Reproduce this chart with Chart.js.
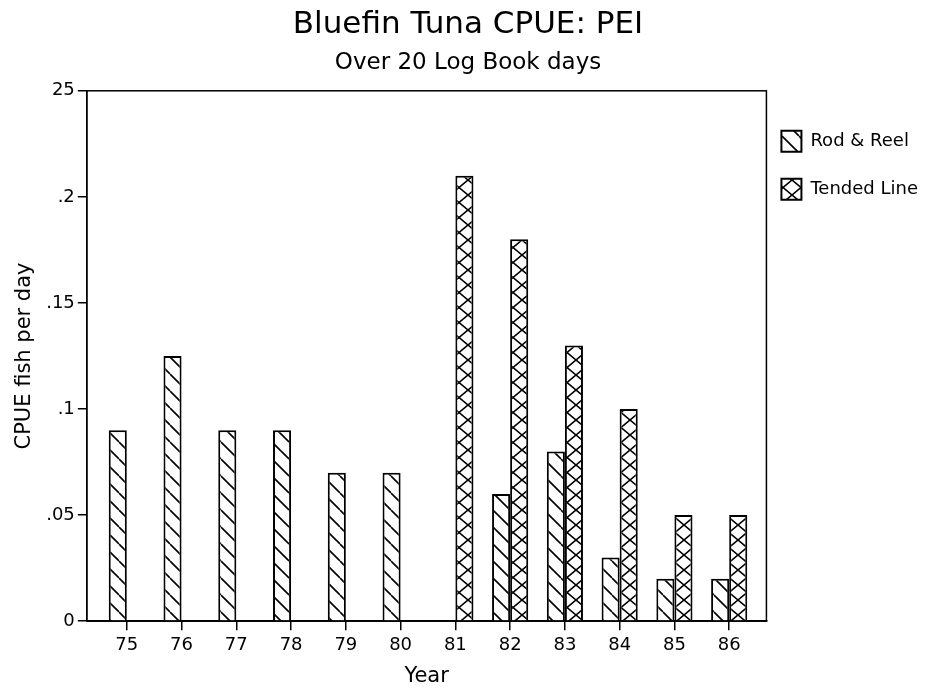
<!DOCTYPE html>
<html>
<head>
<meta charset="utf-8">
<title>Bluefin Tuna CPUE: PEI</title>
<script src="https://cdn.jsdelivr.net/npm/chart.js@4.4.1/dist/chart.umd.min.js"></script>
<style>
  html, body { margin: 0; padding: 0; background: #fff; }
  #wrap { width: 939px; height: 692px; }
</style>
</head>
<body>
<div id="wrap"><canvas id="cpueChart"></canvas></div>
<script>
const years = [75, 76, 77, 78, 79, 80, 81, 82, 83, 84, 85, 86];
const rodReel = [0.09, 0.125, 0.09, 0.09, 0.07, 0.07, null, 0.06, 0.08, 0.03, 0.02, 0.02];
const tendedLine = [null, null, null, null, null, null, 0.21, 0.18, 0.13, 0.10, 0.05, 0.05];
const yTickLabels = ["0", ".05", ".1", ".15", ".2", "25"];

const FONT = "'DejaVu Sans', sans-serif";

// Build a repeating hatch tile: single diagonal or cross
function makeHatch(w, h, cross) {
    const c = document.createElement("canvas");
    c.width = w;
    c.height = h;
    const g = c.getContext("2d");
    g.fillStyle = "#fff";
    g.fillRect(0, 0, w, h);
    g.strokeStyle = "#000";
    g.lineWidth = 1.6;
    g.beginPath();
    for (const dx of [-w, 0, w]) {
        g.moveTo(dx, 0);
        g.lineTo(dx + w, h);
        if (cross) {
            g.moveTo(dx + w, 0);
            g.lineTo(dx, h);
        }
    }
    g.stroke();
    return g.createPattern(c, "repeat");
}

function toPoints(values) {
    return years
        .map((yr, i) => ({ x: yr, y: values[i] }))
        .filter(p => p.y !== null);
}

const framePlugin = {
    id: "frame",
    afterDraw(chart) {
        const { ctx, chartArea: a } = chart;
        ctx.save();
        ctx.strokeStyle = "#000";
        ctx.lineWidth = 1.5;
        ctx.strokeRect(a.left, a.top, a.right - a.left, a.bottom - a.top);
        ctx.restore();
    }
};

Chart.defaults.color = "#000";
Chart.defaults.font.family = FONT;

const ctx = document.getElementById("cpueChart").getContext("2d");
new Chart(ctx, {
    type: "bar",
    data: {
        datasets: [
            {
                label: "Rod & Reel",
                data: toPoints(rodReel),
                backgroundColor: makeHatch(17, 17, false),
                borderColor: "#000",
                borderWidth: 2
            },
            {
                label: "Tended Line",
                data: toPoints(tendedLine),
                backgroundColor: makeHatch(18, 15, true),
                borderColor: "#000",
                borderWidth: 2
            }
        ]
    },
    options: {
        responsive: true,
        maintainAspectRatio: false,
        animation: false,
        categoryPercentage: 0.66,
        barPercentage: 1.0,
        layout: { padding: { left: 8, right: 11, top: 0, bottom: 3 } },
        plugins: {
            tooltip: { enabled: false },
            title: {
                display: true,
                text: "Bluefin Tuna CPUE: PEI",
                font: { size: 31, weight: "normal" },
                padding: { top: 6, bottom: 6 }
            },
            subtitle: {
                display: true,
                text: "Over 20 Log Book days",
                font: { size: 23 },
                padding: { top: 0, bottom: 14 }
            },
            legend: {
                position: "right",
                align: "start",
                fullSize: false,
                title: {
                    display: true,
                    text: "",
                    font: { size: 10, lineHeight: 1 },
                    padding: { top: 15, bottom: 0 }
                },
                labels: {
                    boxWidth: 20,
                    boxHeight: 21,
                    padding: 15,
                    font: { size: 18, lineHeight: "33px" },
                    generateLabels: chart =>
                        Chart.defaults.plugins.legend.labels.generateLabels(chart)
                            .map(item => ({ ...item, text: [item.text] }))
                }
            }
        },
        scales: {
            x: {
                type: "linear",
                min: 74.27,
                max: 86.68,
                offset: false,
                afterBuildTicks: scale => {
                    scale.ticks = years.map(v => ({ value: v }));
                },
                ticks: {
                    font: { size: 18 },
                    padding: 4,
                    callback: v => String(v)
                },
                grid: {
                    offset: false,
                    drawOnChartArea: false,
                    tickLength: 9,
                    color: "#000",
                    lineWidth: 1.5
                },
                border: { color: "#000", width: 1.5 },
                title: {
                    display: true,
                    text: "Year",
                    font: { size: 21 },
                    padding: { top: 4, bottom: 0 }
                }
            },
            y: {
                min: 0,
                max: 0.25,
                ticks: {
                    stepSize: 0.05,
                    font: { size: 18 },
                    padding: 3,
                    callback: (v, i) => yTickLabels[i]
                },
                grid: {
                    drawOnChartArea: false,
                    tickLength: 9,
                    color: "#000",
                    lineWidth: 1.5
                },
                border: { color: "#000", width: 1.5 },
                title: {
                    display: true,
                    text: "CPUE fish per day",
                    font: { size: 21 },
                    padding: { top: 4, bottom: 6 }
                }
            }
        }
    },
    plugins: [framePlugin]
});
</script>
</body>
</html>
